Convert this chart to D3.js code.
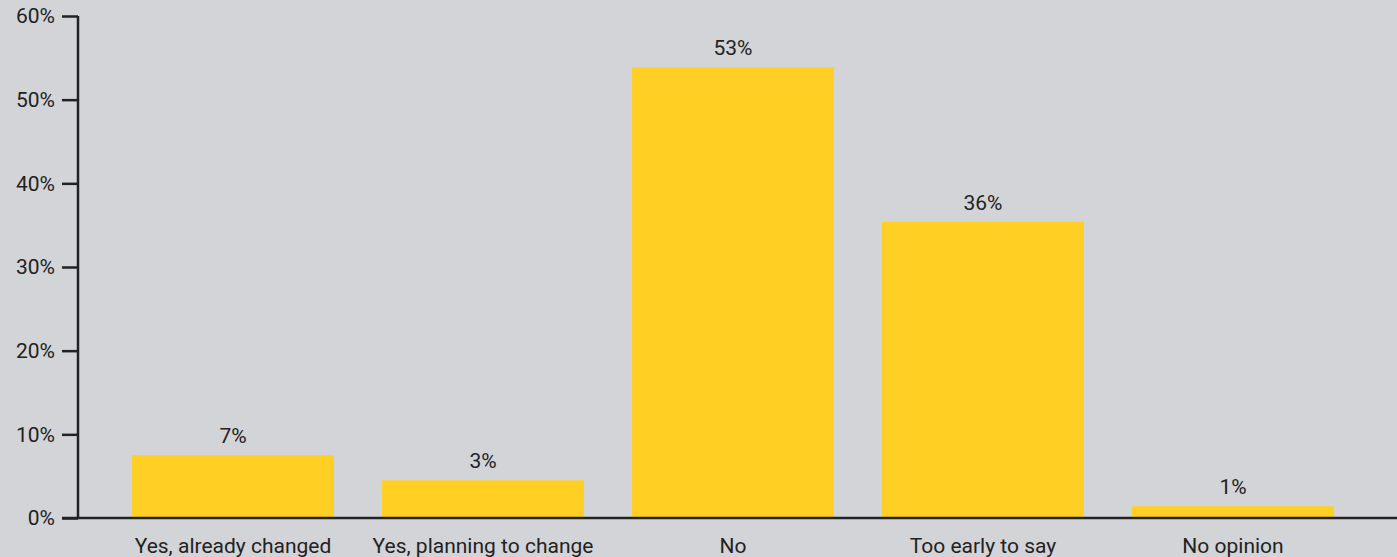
<!DOCTYPE html>
<html>
<head>
<meta charset="utf-8">
<script src="https://cdn.jsdelivr.net/npm/d3@7"></script>
<style>
  body { margin: 0; background: #d3d4d8; }
  svg { display: block; }
  text { font-family: Roboto, "Open Sans", sans-serif; fill: #222; }
</style>
</head>
<body>
<div id="chart"></div>
<script>
// data
var categories = ["Yes, already changed", "Yes, planning to change", "No", "Too early to say", "No opinion"];
var values = [7.5, 4.5, 53.9, 35.4, 1.4];
var valueLabels = ["7%", "3%", "53%", "36%", "1%"];
var yTicks = [0, 10, 20, 30, 40, 50, 60];

var width = 1397, height = 557;
var margin = {top: 16, right: 0, bottom: 39, left: 78};
var fontSize = "21px";

var svg = d3.select("#chart").append("svg")
  .attr("width", width)
  .attr("height", height);

var x = d3.scaleBand()
  .domain(categories)
  .range([108, 1358])
  .paddingInner(0.192)
  .paddingOuter(0.096);

var y = d3.scaleLinear()
  .domain([0, 60])
  .range([height - margin.bottom, margin.top]);

// bars
svg.selectAll("rect.bar")
  .data(values)
  .enter().append("rect")
  .attr("class", "bar")
  .attr("x", function(d, i) { return x(categories[i]); })
  .attr("width", x.bandwidth())
  .attr("y", function(d) { return y(d); })
  .attr("height", function(d) { return y(0) - y(d); })
  .attr("fill", "#ffd023");

// value labels
svg.selectAll("text.val")
  .data(values)
  .enter().append("text")
  .attr("class", "val")
  .attr("x", function(d, i) { return x(categories[i]) + x.bandwidth() / 2; })
  .attr("y", function(d) { return y(d) - 12; })
  .attr("text-anchor", "middle")
  .style("font-size", fontSize)
  .text(function(d, i) { return valueLabels[i]; });

// y axis
var yAxis = svg.append("g")
  .attr("transform", "translate(" + margin.left + ",0)")
  .call(d3.axisLeft(y).tickValues(yTicks).tickSize(16).tickPadding(7)
    .tickFormat(function(d) { return d + "%"; }));
yAxis.select(".domain").attr("stroke", "#222").attr("stroke-width", 2.5)
  .attr("d", "M0," + y(60) + "V" + y(0));
yAxis.selectAll(".tick line").attr("stroke", "#222").attr("stroke-width", 2.5);
yAxis.selectAll(".tick text").style("font-size", fontSize).attr("fill", "#222");

// x axis
var xAxis = svg.append("g")
  .attr("transform", "translate(0," + y(0) + ")")
  .call(d3.axisBottom(x).tickSize(0).tickPadding(20));
xAxis.select(".domain").attr("stroke", "#222").attr("stroke-width", 2.5)
  .attr("d", "M62,0H" + width);
xAxis.selectAll(".tick text").style("font-size", fontSize).attr("fill", "#222");
</script>
</body>
</html>
